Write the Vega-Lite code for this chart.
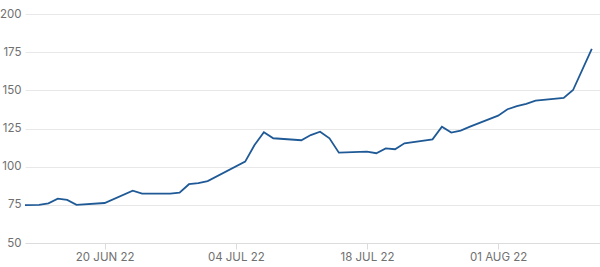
{
  "$schema": "https://vega.github.io/schema/vega-lite/v6.json",
  "width": 575,
  "height": 229,
  "autosize": {"type": "none"},
  "padding": {"left": 25, "top": 14, "right": 0, "bottom": 24},
  "background": "white",
  "config": {
    "view": {"stroke": null},
    "font": "Inter",
    "axis": {"labelFont": "Inter", "labelColor": "#707070", "labelFontSize": 11.5}
  },
  "data": {
    "values": [
      {"date": "2022-06-10", "value": 74.5},
      {"date": "2022-06-13", "value": 75.0},
      {"date": "2022-06-14", "value": 76.0},
      {"date": "2022-06-15", "value": 79.0},
      {"date": "2022-06-16", "value": 78.2},
      {"date": "2022-06-17", "value": 75.0},
      {"date": "2022-06-20", "value": 76.2},
      {"date": "2022-06-23", "value": 84.3},
      {"date": "2022-06-24", "value": 82.3},
      {"date": "2022-06-27", "value": 82.4},
      {"date": "2022-06-28", "value": 83.0},
      {"date": "2022-06-29", "value": 88.5},
      {"date": "2022-06-30", "value": 89.2},
      {"date": "2022-07-01", "value": 90.5},
      {"date": "2022-07-05", "value": 103.3},
      {"date": "2022-07-06", "value": 114.2},
      {"date": "2022-07-07", "value": 122.5},
      {"date": "2022-07-08", "value": 118.6},
      {"date": "2022-07-11", "value": 117.3},
      {"date": "2022-07-12", "value": 120.7},
      {"date": "2022-07-13", "value": 122.9},
      {"date": "2022-07-14", "value": 118.6},
      {"date": "2022-07-15", "value": 109.2},
      {"date": "2022-07-18", "value": 109.8},
      {"date": "2022-07-19", "value": 108.8},
      {"date": "2022-07-20", "value": 112.0},
      {"date": "2022-07-21", "value": 111.4},
      {"date": "2022-07-22", "value": 115.3},
      {"date": "2022-07-25", "value": 117.9},
      {"date": "2022-07-26", "value": 126.2},
      {"date": "2022-07-27", "value": 122.3},
      {"date": "2022-07-28", "value": 123.6},
      {"date": "2022-07-29", "value": 126.2},
      {"date": "2022-08-01", "value": 133.4},
      {"date": "2022-08-02", "value": 137.6},
      {"date": "2022-08-03", "value": 139.7},
      {"date": "2022-08-04", "value": 141.2},
      {"date": "2022-08-05", "value": 143.2},
      {"date": "2022-08-08", "value": 145.0},
      {"date": "2022-08-09", "value": 150.2},
      {"date": "2022-08-11", "value": 177.1}
    ]
  },
  "mark": {"type": "line", "color": "#1f5a96", "strokeWidth": 1.8, "clip": true},
  "encoding": {
    "x": {
      "field": "date",
      "type": "temporal",
      "scale": {
        "type": "utc",
        "domain": [
          {"year": 2022, "month": 6, "date": 11, "hours": 12, "utc": true},
          {"year": 2022, "month": 8, "date": 11, "hours": 21, "utc": true}
        ]
      },
      "axis": {
        "title": null,
        "grid": false,
        "values": [
          {"year": 2022, "month": 6, "date": 20, "utc": true},
          {"year": 2022, "month": 7, "date": 4, "utc": true},
          {"year": 2022, "month": 7, "date": 18, "utc": true},
          {"year": 2022, "month": 8, "date": 1, "utc": true}
        ],
        "labelExpr": "upper(utcFormat(datum.value, '%d %b %y'))",
        "domain": true,
        "domainColor": "#dcdcdc",
        "tickColor": "#dcdcdc",
        "tickSize": 6,
        "labelPadding": 2
      }
    },
    "y": {
      "field": "value",
      "type": "quantitative",
      "scale": {"domain": [50, 200], "nice": false, "zero": false},
      "axis": {
        "title": null,
        "values": [50, 75, 100, 125, 150, 175, 200],
        "domain": false,
        "ticks": false,
        "grid": true,
        "gridColor": "#e8e8e8",
        "labelPadding": 4
      }
    }
  }
}
